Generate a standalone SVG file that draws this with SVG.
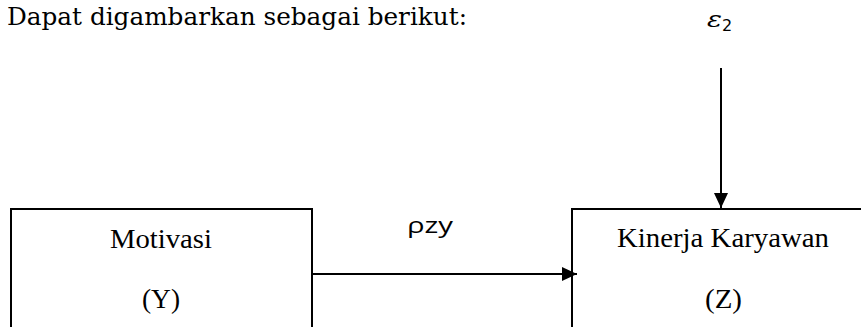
<svg xmlns="http://www.w3.org/2000/svg" width="861" height="327" viewBox="0 0 861 327">
<defs>
<style>
.t{font-family:"Liberation Serif","Times New Roman",serif;font-size:27px;fill:#000}
.box{fill:none;stroke:#000;stroke-width:2}
.ln{stroke:#000;stroke-width:2;fill:none}
</style>
<marker id="ah" markerWidth="15" markerHeight="14" refX="15" refY="7" orient="auto" markerUnits="userSpaceOnUse">
<path d="M0,0 L15,7 L0,14 Z" fill="#000"/>
</marker>
</defs>
<rect width="861" height="327" fill="#fff"/>
<g id="heading">
<text x="7" y="25" font-family="'DejaVu Serif', 'Liberation Serif', serif" font-size="25" textLength="460" lengthAdjust="spacingAndGlyphs">Dapat digambarkan sebagai berikut:</text>
</g>
<g id="epsilon">
<text x="707" y="27" font-family="'DejaVu Serif', serif" font-style="italic" font-size="22" textLength="15" lengthAdjust="spacingAndGlyphs">ε</text>
<text x="722" y="31" font-family="'DejaVu Sans', sans-serif" font-size="16">2</text>
</g>
<g id="motivasi">
<rect class="box" x="11" y="209" width="301" height="130"/>
<text class="t" x="110" y="248" textLength="102" lengthAdjust="spacingAndGlyphs">Motivasi</text>
<text class="t" x="142" y="308" textLength="38" lengthAdjust="spacingAndGlyphs">(Y)</text>
</g>
<g id="kinerja">
<rect class="box" x="572" y="209" width="300" height="130"/>
<text class="t" x="617" y="247" textLength="212" lengthAdjust="spacingAndGlyphs">Kinerja Karyawan</text>
<text class="t" x="705" y="308" textLength="37" lengthAdjust="spacingAndGlyphs">(Z)</text>
</g>
<g id="connectors">
<line class="ln" x1="312" y1="274" x2="577" y2="274" marker-end="url(#ah)"/>
<line class="ln" x1="721" y1="68" x2="721" y2="208" marker-end="url(#ah)"/>
<text x="407" y="233" font-family="'Open Sans', sans-serif" font-size="22" textLength="46" lengthAdjust="spacingAndGlyphs">ρzy</text>
</g>
</svg>
